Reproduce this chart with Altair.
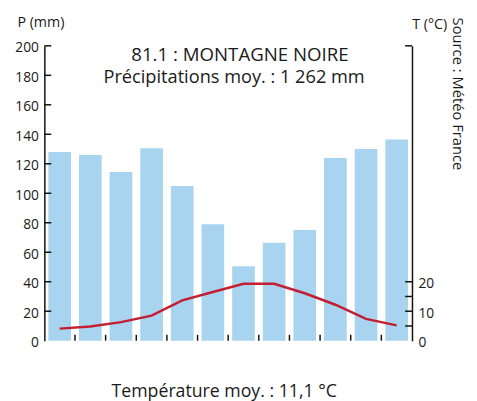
import altair as alt
import pandas as pd

months = ["Janv", "Févr", "Mars", "Avr", "Mai", "Juin", "Juil", "Août", "Sept", "Oct", "Nov", "Déc"]
precip = [128, 126, 114.5, 130.5, 105, 79, 50.5, 66.5, 75, 124, 130, 136.5]
temp = [4.1, 4.8, 6.3, 8.5, 13.7, 16.5, 19.3, 19.3, 16.1, 12.2, 7.4, 5.2]
p_axis_values = [0, 20, 40, 60, 80, 100, 120, 140, 160, 180, 200]
p_tick_values = [20, 40, 60, 80, 100, 120, 140, 160, 180, 200]
t_axis_values = [0, 10, 20]
t_tick_values = [5, 10, 15, 20, 100]

FONT = "Open Sans"
TXT = "#1a1a1a"

df = pd.DataFrame({"month": months, "precip": precip, "temp": temp})
bounds = pd.DataFrame({"month": months[1:]})
pt = pd.DataFrame({"v": p_tick_values})
tt = pd.DataFrame({"v": t_tick_values})
one = pd.DataFrame({"a": [0]})

W, H = 374, 300
xscale = alt.Scale(domain=months, paddingInner=0, paddingOuter=0)
pscale = alt.Scale(domain=[0, 200], nice=False)
tscale = alt.Scale(domain=[0, 100], nice=False)

bars = alt.Chart(df).mark_bar(width=alt.RelativeBandSize(0.74), color="#a9d4f0").encode(
    x=alt.X("month:N", sort=months, scale=xscale,
            axis=alt.Axis(title=None, ticks=False, labelAngle=0, labelFontSize=16,
                          labelPadding=4, labelColor=TXT, domainColor="#111", domainWidth=2,
                          labelExpr="upper(substring(datum.label, 0, 1))")),
    y=alt.Y("precip:Q", scale=pscale,
            axis=alt.Axis(title=None, values=p_axis_values, ticks=False, grid=False,
                          labelFontSize=14, labelPadding=6, labelOffset=2, labelColor=TXT,
                          domainColor="#111", domainWidth=1.5)),
)

line = alt.Chart(df).mark_line(color="#c41e32", strokeWidth=2.5).encode(
    x=alt.X("month:N", sort=months, scale=xscale, axis=None),
    y=alt.Y("temp:Q", scale=tscale,
            axis=alt.Axis(title=None, orient="right", values=t_axis_values, ticks=False,
                          grid=False, labelFontSize=14, labelPadding=6, labelOffset=2,
                          labelColor=TXT, domainColor="#111", domainWidth=1.5)),
)

lticks = alt.Chart(pt).mark_rule(color="#111", strokeWidth=1.5).encode(
    y=alt.Y("v:Q", scale=pscale, axis=None),
    x=alt.value(0), x2=alt.value(7),
)

rticks = alt.Chart(tt).mark_rule(color="#111", strokeWidth=1.5).encode(
    y=alt.Y("v:Q", scale=tscale, axis=None),
    x=alt.value(W - 7), x2=alt.value(W),
)

xticks = alt.Chart(bounds).mark_rule(color="#111", strokeWidth=1.5).encode(
    x=alt.X("month:N", sort=months, scale=xscale, bandPosition=0, axis=None),
    y=alt.value(H), y2=alt.value(H - 6),
)


def txt(s, x, y, size=18, angle=0):
    return alt.Chart(one).mark_text(text=s, font=FONT, fontSize=size, color=TXT,
                                    angle=angle, align="center", baseline="middle").encode(
        x=alt.value(x), y=alt.value(y))


texts = [
    txt("81.1 : MONTAGNE NOIRE", 199, 9, 19),
    txt("Précipitations moy. : 1 262 mm", 193, 32, 18.5),
    txt("P (mm)", -3.5, -23, 14.5),
    txt("T (°C)", 392, -21, 14.5),
    txt("Source : Météo France", 421, 49, 15, 90),
    txt("Température moy. : 11,1 °C", 183, 352, 18),
]

chart = alt.layer(bars, line, lticks, rticks, xticks, *texts).resolve_scale(
    y="independent"
).properties(
    width=W, height=H, autosize="none",
    padding={"left": 37, "top": 35, "right": 58, "bottom": 66},
).configure(font=FONT, view=alt.ViewConfig(stroke=None))

chart.save("out.html", embed_options={"renderer": "svg", "actions": False})
